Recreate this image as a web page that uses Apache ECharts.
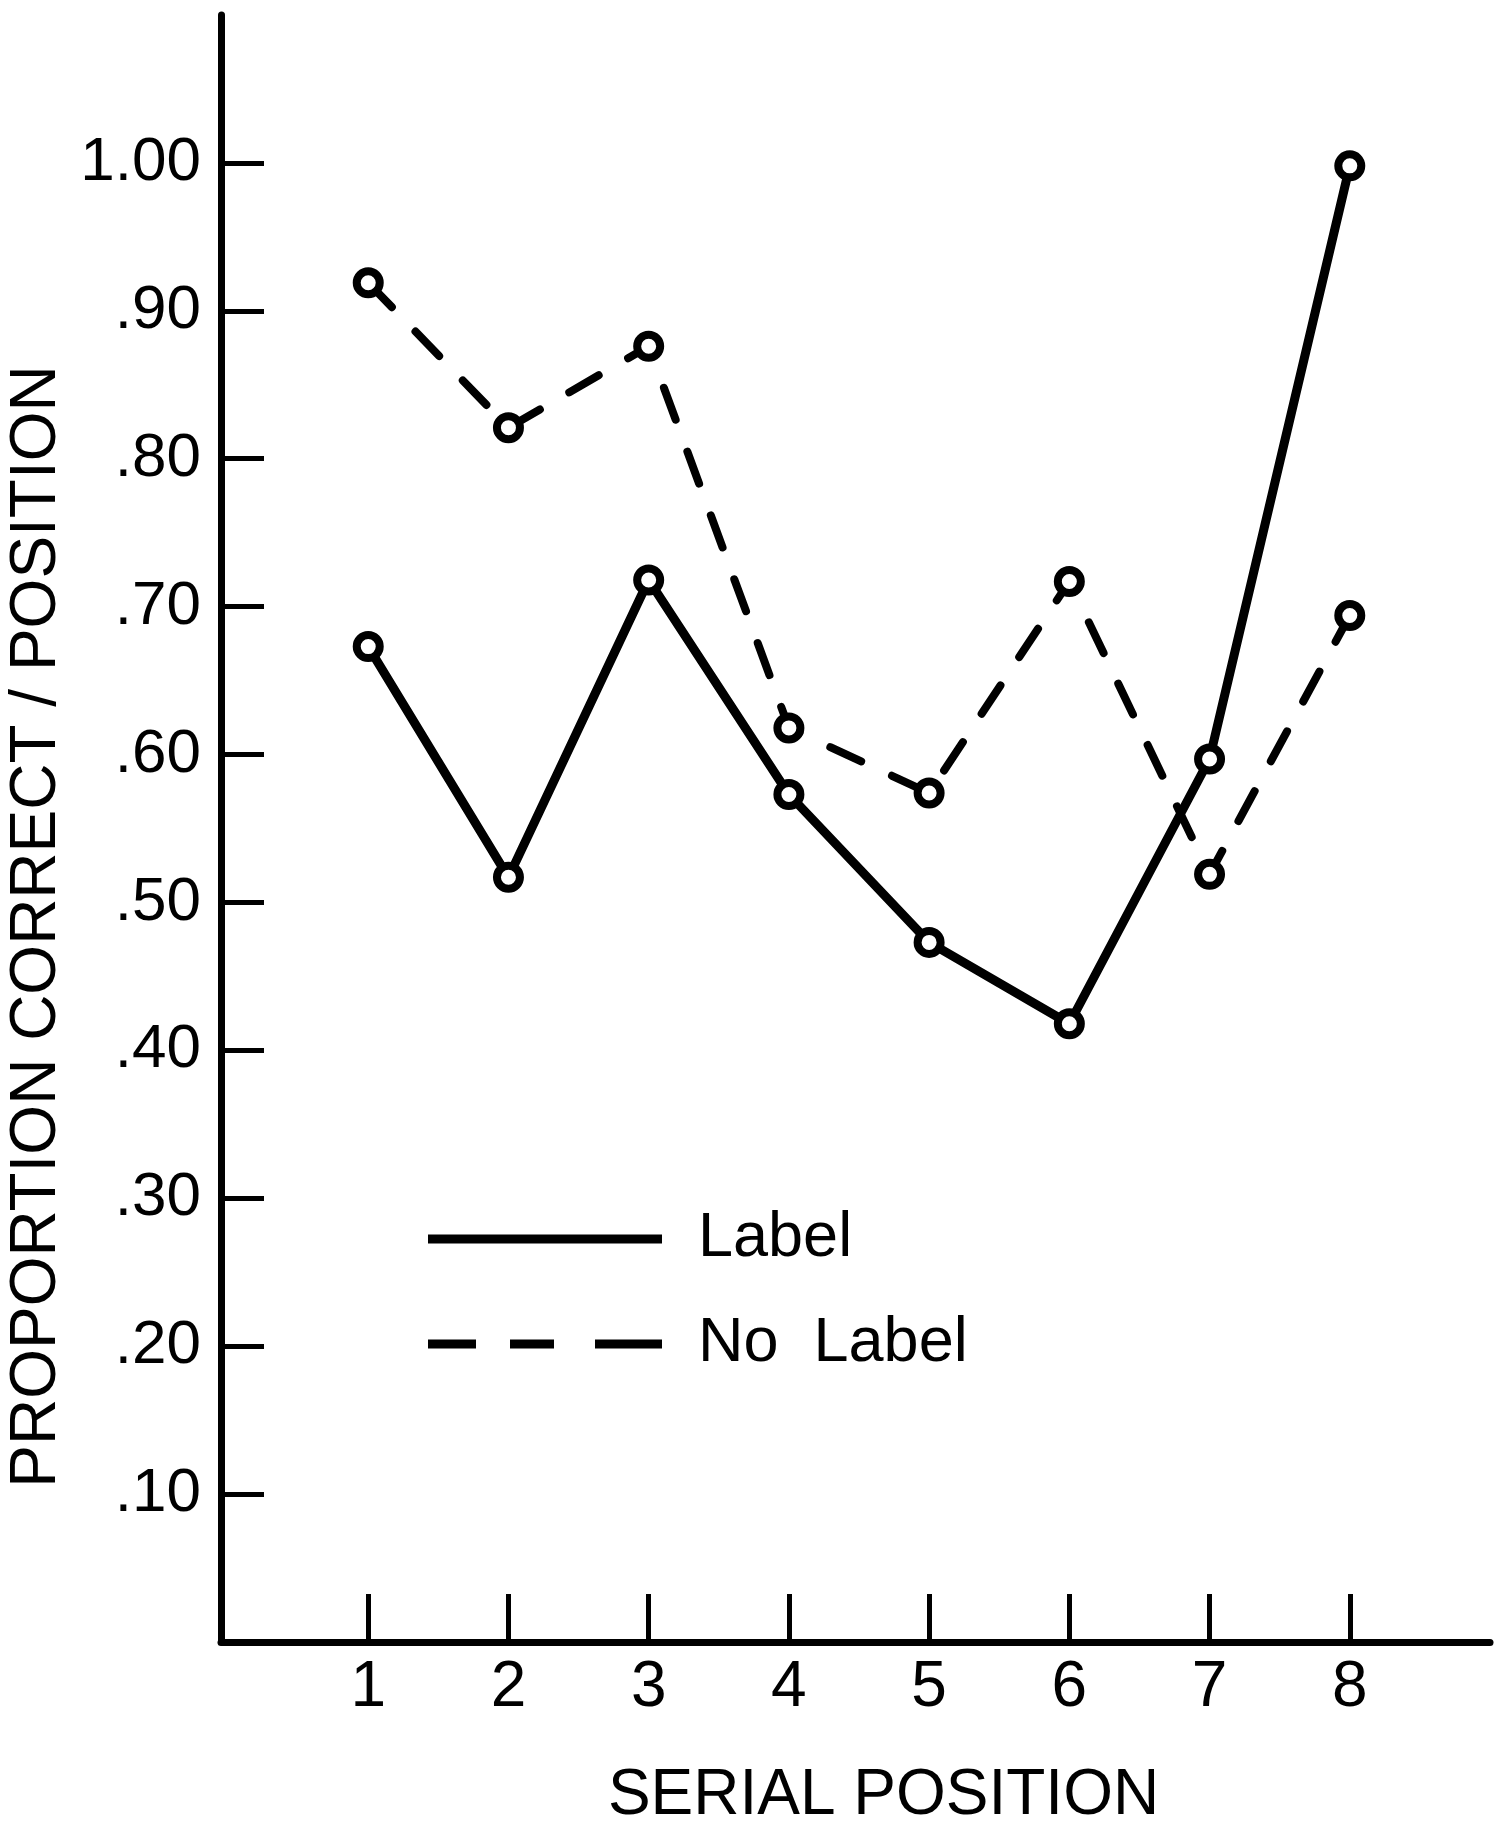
<!DOCTYPE html>
<html>
<head>
<meta charset="utf-8">
<title>Proportion correct by serial position</title>
<script src="https://cdn.jsdelivr.net/npm/echarts@6/dist/echarts.min.js"></script>
<style>
  html, body { margin: 0; padding: 0; background: #fff; }
  #chart { width: 1498px; height: 1832px; }
</style>
</head>
<body>
<div id="chart"></div>
<script>
// serial positions on the x axis
var positions = [1, 2, 3, 4, 5, 6, 7, 8];
// proportion correct
var labelValues = [0.673, 0.517, 0.718, 0.573, 0.473, 0.418, 0.597, 0.998];
var noLabelValues = [0.919, 0.821, 0.876, 0.618, 0.574, 0.717, 0.519, 0.694];
// y tick values
var yTicks = [0.1, 0.2, 0.3, 0.4, 0.5, 0.6, 0.7, 0.8, 0.9, 1.0];

var font = "Liberation Sans";

function pairs(values) {
  return positions.map(function (p, i) {
    return [p, values[i]];
  });
}

var chart = echarts.init(document.getElementById("chart"), null, { renderer: "canvas" });

var symbolStyle = { color: "#fff", borderColor: "#000", borderWidth: 8 };

chart.setOption({
  backgroundColor: "#fff",
  animation: false,
  grid: { left: 221, right: 8, top: 15, bottom: 190, outerBoundsMode: "none" },
  legend: {
    orient: "vertical",
    left: 423,
    top: 1202,
    itemGap: 41,
    selectedMode: false,
    itemWidth: 234,
    itemHeight: 9,
    textStyle: { fontFamily: font, fontSize: 63, lineHeight: 64, color: "#000", padding: [0, 0, 0, 31] },
    data: [
      {
        name: "Label",
        icon: "path://M0,0H234V9H0Z",
        itemStyle: { color: "#000", borderWidth: 0 }
      },
      {
        name: "No  Label",
        icon: "path://M0,0H48V9H0Z M82,0H126V9H82Z M167,0H234V9H167Z",
        itemStyle: { color: "#000", borderWidth: 0 }
      }
    ]
  },
  xAxis: {
    type: "value",
    min: -0.05,
    max: 9,
    name: "SERIAL POSITION",
    nameLocation: "middle",
    nameGap: 122,
    nameTextStyle: { fontFamily: font, fontSize: 64, lineHeight: 64, color: "#000", padding: [0, 0, 0, 56] },
    axisLine: { onZero: false, lineStyle: { color: "#000", width: 7 } },
    axisTick: { inside: true, length: 48, customValues: positions, lineStyle: { color: "#000", width: 5 } },
    axisLabel: { customValues: positions, margin: 14, fontFamily: font, fontSize: 64, lineHeight: 64, color: "#000" },
    splitLine: { show: false }
  },
  yAxis: {
    type: "value",
    min: 0,
    max: 1.1,
    name: "PROPORTION CORRECT / POSITION",
    nameLocation: "middle",
    nameRotate: 90,
    nameGap: 139,
    nameTextStyle: { fontFamily: font, fontSize: 64, lineHeight: 64, color: "#000", padding: [0, 196, 0, 0] },
    axisLine: { show: true, onZero: false, lineStyle: { color: "#000", width: 7 } },
    axisTick: { show: true, inside: true, length: 43, customValues: yTicks, lineStyle: { color: "#000", width: 5 } },
    axisLabel: {
      customValues: yTicks,
      margin: 20,
      fontFamily: font,
      fontSize: 62,
      color: "#000",
      formatter: function (v) {
        return v >= 1 ? "1.00" : v.toFixed(2).slice(1);
      }
    },
    splitLine: { show: false }
  },
  series: [
    {
      name: "Label",
      type: "line",
      data: pairs(labelValues),
      symbol: "circle",
      symbolSize: 23,
      itemStyle: symbolStyle,
      lineStyle: { color: "#000", width: 9 }
    },
    {
      name: "No  Label",
      type: "line",
      data: pairs(noLabelValues),
      symbol: "circle",
      symbolSize: 23,
      itemStyle: symbolStyle,
      lineStyle: { color: "#000", width: 8, type: [34, 34], cap: "round" }
    }
  ]
});
</script>
</body>
</html>
